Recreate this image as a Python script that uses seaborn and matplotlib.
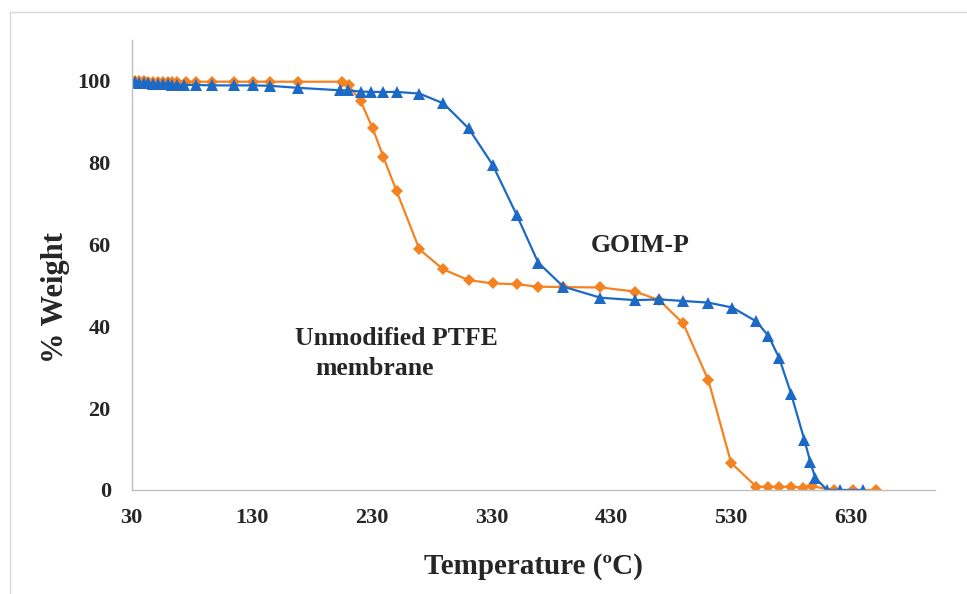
import numpy as np
import pandas as pd
import seaborn as sns
import matplotlib.pyplot as plt
from matplotlib.patches import Rectangle

# dados (TGA)
temp_ptfe = [30, 33, 36, 40, 44, 48, 52, 56, 60, 64, 68, 75, 84, 97, 115, 131, 145, 169,
             205, 211, 221, 231, 240, 251, 270, 290, 311, 331, 351, 369, 390, 421, 450,
             470, 490, 511, 530, 551, 561, 570, 580, 590, 597, 616, 632, 651]
peso_ptfe = [100, 100, 99.9, 99.9, 99.8, 99.8, 99.8, 99.8, 99.8, 99.8, 99.8, 99.8, 99.8, 99.8,
             99.8, 99.8, 99.8, 99.8, 99.8, 98.9, 95.0, 88.4, 81.3, 73.0, 58.8, 53.9, 51.3,
             50.5, 50.3, 49.7, 49.6, 49.5, 48.5, 46.4, 40.7, 26.8, 6.6, 0.8, 0.8, 0.8, 0.8,
             0.6, 0.9, 0.0, 0.0, 0.0]

temp_goim = [30, 33, 36, 40, 44, 48, 52, 56, 60, 64, 68, 74, 84, 97, 115, 131, 145, 169,
             204, 210, 221, 230, 240, 251, 270, 290, 311, 331, 351, 369, 390, 421, 450,
             470, 490, 511, 531, 551, 561, 570, 580, 591, 596, 600, 610, 621, 640]
peso_goim = [99.8, 99.7, 99.6, 99.5, 99.4, 99.3, 99.3, 99.2, 99.2, 99.1, 99.1, 99.0, 99.0,
             98.9, 98.9, 98.9, 98.8, 98.3, 97.7, 97.7, 97.4, 97.3, 97.3, 97.3, 96.9, 94.5,
             88.4, 79.5, 67.3, 55.6, 49.7, 47.0, 46.4, 46.6, 46.2, 45.8, 44.6, 41.2, 37.7,
             32.3, 23.5, 12.3, 6.9, 3.0, 0.0, 0.0, 0.0]

xticks = [30, 130, 230, 330, 430, 530, 630]
yticks = [0, 20, 40, 60, 80, 100]

sns.set_style("white")
plt.rcParams['font.family'] = ['Liberation Serif', 'DejaVu Serif']
plt.rcParams['font.weight'] = 'bold'

fig = plt.figure(figsize=(9.67, 5.94), dpi=100)
ax = fig.add_axes([0.1362, 0.1751, 0.8307, 0.7576])

laranja = "#F58220"
azul = "#1C69C6"

sns.lineplot(x=temp_ptfe, y=peso_ptfe, ax=ax, color=laranja, linewidth=1.6,
             marker="D", markersize=6.5, markeredgewidth=0, estimator=None, sort=False)
sns.lineplot(x=temp_goim, y=peso_goim, ax=ax, color=azul, linewidth=1.6,
             marker="^", markersize=8, markeredgewidth=0, estimator=None, sort=False)

ax.set_xlim(30, 700)
ax.set_ylim(0, 110)
ax.set_xticks(xticks)
ax.set_yticks(yticks)
ax.tick_params(axis="both", length=0, labelsize=16)
ax.tick_params(axis="x", pad=13)
ax.tick_params(axis="y", pad=15)

for s in ["top", "right"]:
    ax.spines[s].set_visible(False)
for s in ["left", "bottom"]:
    ax.spines[s].set_color("#BFBFBF")
    ax.spines[s].set_linewidth(1.0)

ax.set_xlabel("Temperature (ºC)", fontsize=21, fontweight="bold", labelpad=18)
ax.set_ylabel("% Weight", fontsize=22, fontweight="bold")
ax.yaxis.set_label_coords(-0.077, 0.427)

ax.text(412.6, 58.2, "GOIM-P", fontsize=18.5, fontweight="bold", ha="left", va="baseline")
ax.text(166.3, 35.5, "Unmodified PTFE", fontsize=18.5, fontweight="bold", ha="left", va="baseline")
ax.text(183, 28.2, "membrane", fontsize=18.5, fontweight="bold", ha="left", va="baseline")

# moldura da área do gráfico
fig.patches.append(Rectangle((10 / 967, -0.1), 1.2, (594 - 12) / 594 + 0.1,
                             transform=fig.transFigure, fill=False,
                             edgecolor="#D9D9D9", linewidth=1.0))

fig.savefig("out.png", dpi=100)
